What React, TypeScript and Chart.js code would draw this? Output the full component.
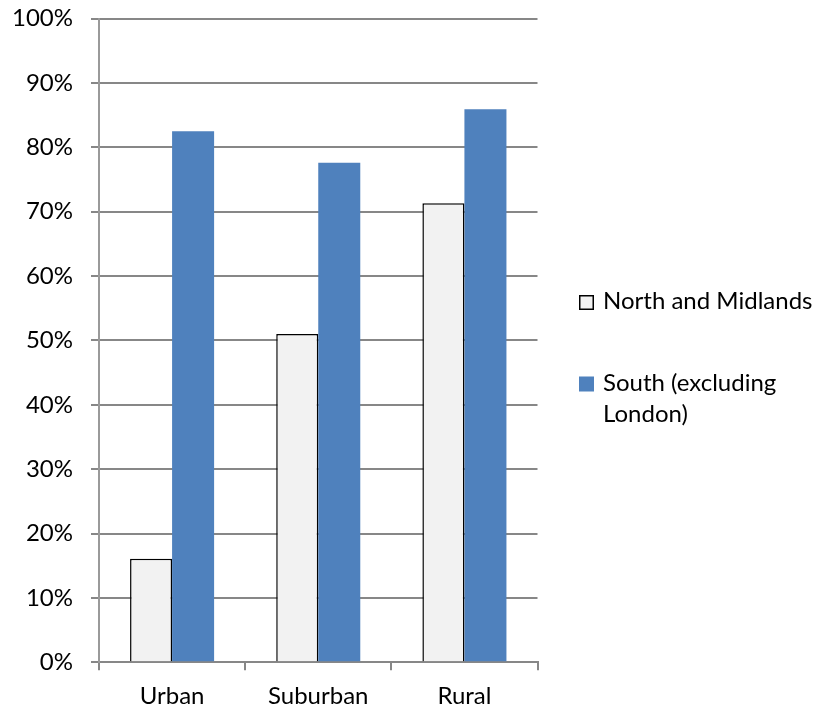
import React, { useEffect, useRef } from 'react';
import { Chart, registerables } from 'chart.js';

Chart.register(...registerables);

// ---- data ----
const categories: string[] = ['Urban', 'Suburban', 'Rural'];
const northMidlands: number[] = [16.1, 51.0, 71.3];
const southExLondon: number[] = [82.5, 77.6, 85.9];
const seriesNames: string[] = ['North and Midlands', 'South (excluding London)'];
const legendLines: string[][] = [['North and Midlands'], ['South (excluding', 'London)']];
const yTickStep = 10;
const yMax = 100;

// ---- style ----
const FONT = 'Lato';
const FONT_SIZE = 24;
const GRID = '#878787';
const NORTH_FILL = '#f2f2f2';
const SOUTH_FILL = '#4f81bd';

const LEGEND_BOX_X = 579;
const LEGEND_TEXT_X = 603;
const LEGEND_ITEM_BASE = [309, 390.5];
const LEGEND_LINE_STEP = 31;

const sideLegend = {
  id: 'sideLegend',
  afterDraw(chart: any) {
    const ctx = chart.ctx as CanvasRenderingContext2D;
    ctx.save();
    ctx.font = `${FONT_SIZE}px ${FONT}`;
    ctx.textBaseline = 'alphabetic';
    ctx.textAlign = 'left';
    chart.data.datasets.forEach((ds: any, i: number) => {
      const base = LEGEND_ITEM_BASE[i];
      const boxTop = base - 14;
      ctx.fillStyle = ds.backgroundColor;
      ctx.fillRect(LEGEND_BOX_X, boxTop, 15, 15);
      if (ds.borderWidth) {
        ctx.strokeStyle = ds.borderColor;
        ctx.lineWidth = 1.5;
        ctx.strokeRect(LEGEND_BOX_X + 0.75, boxTop + 0.75, 13.5, 13.5);
      }
      ctx.fillStyle = '#000';
      legendLines[i].forEach((line, j) => {
        ctx.fillText(line, LEGEND_TEXT_X, base + j * LEGEND_LINE_STEP);
      });
    });
    ctx.restore();
  },
};

export default function App() {
  const ref = useRef<HTMLCanvasElement | null>(null);

  useEffect(() => {
    if (!ref.current) return;
    Chart.defaults.font.family = FONT;
    Chart.defaults.font.size = FONT_SIZE;
    Chart.defaults.color = '#000';
    const chart = new Chart(ref.current, {
      type: 'bar',
      data: {
        labels: categories,
        datasets: [
          {
            label: seriesNames[0],
            data: northMidlands,
            backgroundColor: NORTH_FILL,
            borderColor: '#000',
            borderWidth: 1.5,
            borderSkipped: 'start',
          },
          {
            label: seriesNames[1],
            data: southExLondon,
            backgroundColor: SOUTH_FILL,
            borderWidth: 0,
          },
        ],
      },
      options: {
        animation: false,
        responsive: true,
        maintainAspectRatio: false,
        layout: { padding: { top: 18.5, right: 292.5, left: 0, bottom: 0 } },
        datasets: {
          bar: { categoryPercentage: 0.575, barPercentage: 1 },
        },
        plugins: {
          legend: { display: false },
          tooltip: { enabled: false },
        },
        scales: {
          x: {
            grid: {
              offset: true,
              drawOnChartArea: false,
              drawTicks: true,
              tickLength: 8,
              color: GRID,
              lineWidth: 2,
            },
            border: { display: true, color: GRID, width: 2 },
            ticks: { padding: 12, color: '#000', font: { family: FONT, size: FONT_SIZE } },
            afterFit: (scale: any) => {
              scale.height = 710 - 662.3;
              scale.paddingLeft = 0;
              scale.paddingRight = 0;
            },
          },
          y: {
            min: 0,
            max: yMax,
            ticks: {
              stepSize: yTickStep,
              padding: 18,
              color: '#000',
              font: { family: FONT, size: FONT_SIZE },
              callback: (v: any) => `${v}%`,
            },
            grid: {
              color: GRID,
              lineWidth: 2,
              tickLength: 8,
              drawTicks: true,
            },
            border: { display: true, color: '#9a9a9a', width: 2 },
            afterFit: (scale: any) => {
              scale.width = 99;
              scale.paddingTop = 0;
              scale.paddingBottom = 0;
            },
          },
        },
      },
      plugins: [sideLegend],
    });
    return () => chart.destroy();
  }, []);

  return (
    <div style={{ position: 'absolute', left: 0, top: 0, width: 830, height: 710, background: '#fff' }}>
      <canvas ref={ref} />
    </div>
  );
}
